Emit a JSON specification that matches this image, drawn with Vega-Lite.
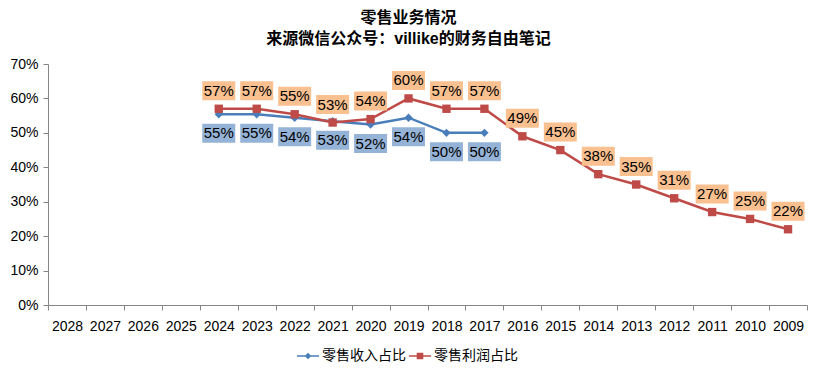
{
  "$schema": "https://vega.github.io/schema/vega-lite/v6.json",
  "width": 759,
  "height": 241,
  "autosize": {"type": "none"},
  "padding": {"left": 48, "top": 64, "right": 12, "bottom": 68},
  "background": "white",
  "title": {
    "text": ["零售业务情况", "来源微信公众号：villike的财务自由笔记"],
    "fontSize": 16,
    "fontWeight": "bold",
    "font": "Liberation Sans, Noto Sans CJK SC, sans-serif",
    "color": "#000000",
    "anchor": "middle",
    "dx": -19,
    "lineHeight": 21,
    "offset": 10
  },
  "config": {
    "view": {"stroke": null},
    "font": "Liberation Sans, Noto Sans CJK SC, sans-serif"
  },
  "data": {
    "values": [
      {"year": "2024", "series": "零售收入占比", "value": 0.554},
      {"year": "2023", "series": "零售收入占比", "value": 0.554},
      {"year": "2022", "series": "零售收入占比", "value": 0.544},
      {"year": "2021", "series": "零售收入占比", "value": 0.534},
      {"year": "2020", "series": "零售收入占比", "value": 0.524},
      {"year": "2019", "series": "零售收入占比", "value": 0.544},
      {"year": "2018", "series": "零售收入占比", "value": 0.500},
      {"year": "2017", "series": "零售收入占比", "value": 0.500},
      {"year": "2024", "series": "零售利润占比", "value": 0.570},
      {"year": "2023", "series": "零售利润占比", "value": 0.570},
      {"year": "2022", "series": "零售利润占比", "value": 0.554},
      {"year": "2021", "series": "零售利润占比", "value": 0.530},
      {"year": "2020", "series": "零售利润占比", "value": 0.540},
      {"year": "2019", "series": "零售利润占比", "value": 0.600},
      {"year": "2018", "series": "零售利润占比", "value": 0.570},
      {"year": "2017", "series": "零售利润占比", "value": 0.570},
      {"year": "2016", "series": "零售利润占比", "value": 0.490},
      {"year": "2015", "series": "零售利润占比", "value": 0.450},
      {"year": "2014", "series": "零售利润占比", "value": 0.380},
      {"year": "2013", "series": "零售利润占比", "value": 0.350},
      {"year": "2012", "series": "零售利润占比", "value": 0.310},
      {"year": "2011", "series": "零售利润占比", "value": 0.270},
      {"year": "2010", "series": "零售利润占比", "value": 0.250},
      {"year": "2009", "series": "零售利润占比", "value": 0.220}
    ]
  },
  "encoding": {
    "x": {
      "field": "year",
      "type": "nominal",
      "sort": null,
      "scale": {
        "type": "band",
        "domain": ["2028","2027","2026","2025","2024","2023","2022","2021","2020","2019","2018","2017","2016","2015","2014","2013","2012","2011","2010","2009"],
        "paddingInner": 0,
        "paddingOuter": 0
      },
      "axis": {
        "title": null,
        "labelAngle": 0,
        "tickBand": "extent",
        "labelFontSize": 14,
        "labelColor": "#000000",
        "labelPadding": 9,
        "domainColor": "#868686",
        "tickColor": "#868686",
        "tickSize": 5,
        "grid": false
      }
    },
    "y": {
      "field": "value",
      "type": "quantitative",
      "scale": {"domain": [0, 0.7], "nice": false},
      "axis": {
        "title": null,
        "format": ".0%",
        "values": [0, 0.1, 0.2, 0.3, 0.4, 0.5, 0.6, 0.7],
        "labelFontSize": 14,
        "labelColor": "#000000",
        "labelPadding": 5,
        "domainColor": "#868686",
        "tickColor": "#868686",
        "tickSize": 5,
        "grid": false
      }
    }
  },
  "layer": [
    {
      "mark": {"type": "line", "strokeWidth": 2.5},
      "encoding": {
        "color": {
          "field": "series",
          "type": "nominal",
          "scale": {"domain": ["零售收入占比", "零售利润占比"], "range": ["#4a7ebb", "#be4b48"]}
        }
      }
    },
    {
      "transform": [{"filter": "datum.series === '零售收入占比'"}],
      "mark": {"type": "point", "shape": "diamond", "filled": true, "size": 70, "opacity": 1, "color": "#4a7ebb"}
    },
    {
      "transform": [{"filter": "datum.series === '零售利润占比'"}],
      "mark": {"type": "point", "shape": "square", "filled": true, "size": 70, "opacity": 1, "color": "#be4b48"}
    },
    {
      "transform": [{"filter": "datum.series === '零售收入占比'"}],
      "mark": {"type": "point", "shape": "M-1,-0.576L1,-0.576L1,0.576L-1,0.576Z", "filled": true, "size": 1089, "opacity": 1, "color": "#95b3d7", "yOffset": 19}
    },
    {
      "transform": [{"filter": "datum.series === '零售利润占比'"}],
      "mark": {"type": "point", "shape": "M-1,-0.576L1,-0.576L1,0.576L-1,0.576Z", "filled": true, "size": 1089, "opacity": 1, "color": "#fac090", "yOffset": -18}
    },
    {
      "transform": [{"filter": "datum.series === '零售收入占比'"}],
      "mark": {"type": "text", "fontSize": 15, "color": "#000000", "baseline": "middle", "dy": 19},
      "encoding": {"text": {"field": "value", "type": "quantitative", "format": ".0%"}}
    },
    {
      "transform": [{"filter": "datum.series === '零售利润占比'"}],
      "mark": {"type": "text", "fontSize": 15, "color": "#000000", "baseline": "middle", "dy": -18},
      "encoding": {"text": {"field": "value", "type": "quantitative", "format": ".0%"}}
    },
    {
      "mark": {"type": "point", "filled": true, "opacity": 1, "size": 0},
      "encoding": {
        "color": {
          "field": "series",
          "type": "nominal",
          "scale": {"domain": ["零售收入占比", "零售利润占比"], "range": ["#4a7ebb", "#be4b48"]},
          "legend": {
            "title": null,
            "orient": "none",
            "direction": "horizontal",
            "legendX": 249,
            "legendY": 281,
            "labelFontSize": 14,
            "labelColor": "#000000",
            "labelOffset": 3,
            "columnPadding": 3,
            "symbolSize": 484,
            "symbolStrokeWidth": 0,
            "symbolOpacity": 1
          }
        },
        "shape": {
          "field": "series",
          "type": "nominal",
          "scale": {
            "domain": ["零售收入占比", "零售利润占比"],
            "range": [
              "M-1,-0.06L1,-0.06L1,0.06L-1,0.06Z M-0.3,0L0,-0.3L0.3,0L0,0.3Z",
              "M-1,-0.06L1,-0.06L1,0.06L-1,0.06Z M-0.3,-0.3L0.3,-0.3L0.3,0.3L-0.3,0.3Z"
            ]
          },
          "legend": {
            "title": null,
            "orient": "none",
            "direction": "horizontal",
            "legendX": 249,
            "legendY": 281,
            "labelFontSize": 14,
            "labelColor": "#000000",
            "labelOffset": 3,
            "columnPadding": 3,
            "symbolSize": 484,
            "symbolStrokeWidth": 0,
            "symbolOpacity": 1
          }
        }
      }
    }
  ]
}
